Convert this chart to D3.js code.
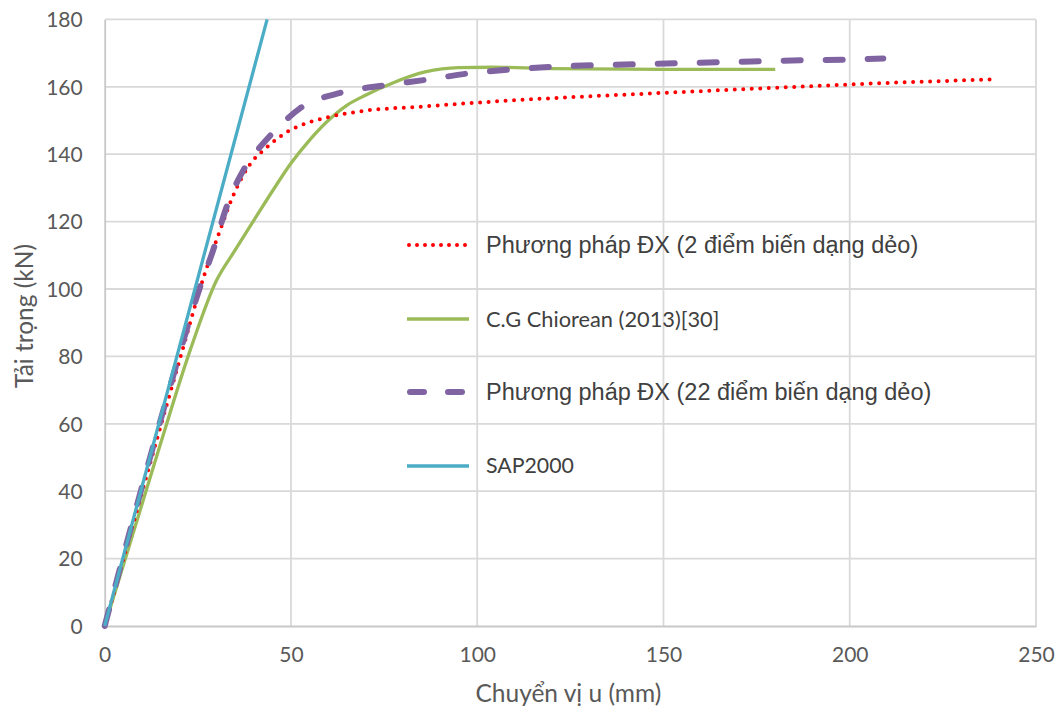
<!DOCTYPE html>
<html>
<head>
<meta charset="utf-8">
<script src="https://cdn.jsdelivr.net/npm/d3@7"></script>
<style>
  html, body { margin: 0; padding: 0; background: #ffffff; }
  svg { display: block; }
</style>
</head>
<body>
<div id="chart"></div>
<script>
// Load–displacement curves (u in mm, P in kN)
const xTicks = [0, 50, 100, 150, 200, 250];
const yTicks = [0, 20, 40, 60, 80, 100, 120, 140, 160, 180];

const dx2Points = [
  [0, 0], [20, 78.5], [27, 105], [31, 117.5], [35, 129], [39, 137], [43.5, 142],
  [48.8, 146.5], [55, 149.5], [60, 151], [68.5, 152.7], [86, 154.2], [107, 155.8],
  [150, 158.2], [186, 160], [200, 160.7], [239, 162.2]
];
const chioreanPoints = [
  [0, 0], [14.4, 52], [23, 82], [30, 102.5], [35, 111.5], [40, 120.3],
  [45, 129], [50, 137.3], [55, 144.2], [60, 150], [65, 154.5], [70, 157.5], [77, 161],
  [86, 164.4], [95, 165.7], [104, 165.8], [120, 165.4], [150, 165.2], [180, 165.2]
];
const dx22Points = [
  [0, 0], [16, 65], [25.6, 100.6], [29.1, 111.5], [32.7, 124.3], [37.2, 135.2],
  [40.5, 140.5], [44.4, 145.5], [48, 149.5], [52.4, 153.6], [63.2, 158.2], [74.8, 160.4],
  [86.4, 162.1], [97.2, 163.9], [108.8, 165.1], [119.5, 165.9], [142.8, 166.7],
  [165.1, 167.3], [188.4, 167.9], [200, 168.1], [209, 168.4]
];
const sapPoints = [[0, 0], [43.6, 180]];

const seriesNames = [
  "Phương pháp ĐX (2 điểm biến dạng dẻo)",
  "C.G Chiorean (2013)[30]",
  "Phương pháp ĐX (22 điểm biến dạng dẻo)",
  "SAP2000"
];

const W = 1061, H = 711;
const plot = { left: 104.7, right: 1036, top: 19.4, bottom: 626 };

const x = d3.scaleLinear().domain([0, 250]).range([plot.left, plot.right]);
const y = d3.scaleLinear().domain([0, 180]).range([plot.bottom, plot.top]);

const svg = d3.select("#chart").append("svg")
  .attr("width", W).attr("height", H);

const tickFont = "Lato, 'Open Sans', sans-serif";
const tickColor = "#595959";

// gridlines
svg.append("g").selectAll("line.h").data(yTicks.filter(d => d > 0)).join("line")
  .attr("x1", plot.left).attr("x2", plot.right)
  .attr("y1", d => y(d)).attr("y2", d => y(d))
  .attr("stroke", "#d9d9d9").attr("stroke-width", 1.8);
svg.append("g").selectAll("line.v").data(xTicks.filter(d => d > 0)).join("line")
  .attr("y1", plot.top).attr("y2", plot.bottom)
  .attr("x1", d => x(d)).attr("x2", d => x(d))
  .attr("stroke", "#d9d9d9").attr("stroke-width", 1.8);

// axes
const xAxis = svg.append("g").attr("transform", `translate(0,${plot.bottom})`)
  .call(d3.axisBottom(x).tickValues(xTicks).tickSize(0).tickPadding(21));
const yAxis = svg.append("g").attr("transform", `translate(${plot.left},0)`)
  .call(d3.axisLeft(y).tickValues(yTicks).tickSize(0).tickPadding(22));
[xAxis, yAxis].forEach(a => {
  a.select(".domain").attr("stroke", "#c8c8c8").attr("stroke-width", 1.8);
  a.selectAll("text").attr("fill", tickColor)
    .style("font-family", tickFont).style("font-size", "21px");
});
yAxis.selectAll("text").attr("dy", "0.35em");

// axis titles
svg.append("text")
  .attr("x", (plot.left + plot.right) / 2 - 2).attr("y", 702)
  .attr("text-anchor", "middle").attr("fill", tickColor)
  .style("font-family", tickFont).style("font-size", "24.5px")
  .text("Chuyển vị u (mm)");
svg.append("text")
  .attr("transform", `translate(33,316) rotate(-90)`)
  .attr("text-anchor", "middle").attr("fill", tickColor)
  .style("font-family", tickFont).style("font-size", "24.5px")
  .text("Tải trọng (kN)");

// series lines
const line = d3.line().x(d => x(d[0])).y(d => y(d[1])).curve(d3.curveMonotoneX);

const styles = [
  { color: "#ff0000", width: 4, dash: "0 8.5", cap: "round" },
  { color: "#9bbb59", width: 3.3, dash: null, cap: "butt" },
  { color: "#8064a2", width: 6, dash: "17 25", cap: "round" },
  { color: "#4bacc6", width: 3.3, dash: null, cap: "butt" }
];
const seriesData = [dx2Points, chioreanPoints, dx22Points, sapPoints];
const drawOrder = [1, 0, 2, 3];

drawOrder.forEach(i => {
  const s = styles[i];
  svg.append("path").datum(seriesData[i])
    .attr("d", line)
    .attr("fill", "none")
    .attr("stroke", s.color)
    .attr("stroke-width", s.width)
    .attr("stroke-linecap", s.cap)
    .attr("stroke-linejoin", "round")
    .attr("stroke-dasharray", s.dash);
});

// legend
const legendRows = [245, 319, 392, 466];
const legendFonts = [
  { family: "'Liberation Sans', Arial, sans-serif", size: 23.5 },
  { family: tickFont, size: 21.8 },
  { family: "'Liberation Sans', Arial, sans-serif", size: 23.5 },
  { family: tickFont, size: 21.3 }
];
const legend = svg.append("g");
seriesNames.forEach((name, i) => {
  const s = styles[i];
  const ly = legendRows[i];
  legend.append("line")
    .attr("x1", i === 0 ? 409 : (i === 2 ? 410 : 407))
    .attr("x2", i === 0 ? 470 : (i === 2 ? 465 : 469))
    .attr("y1", ly).attr("y2", ly)
    .attr("stroke", s.color).attr("stroke-width", s.width)
    .attr("stroke-linecap", s.cap)
    .attr("stroke-dasharray", i === 2 ? "14 24" : (i === 0 ? "0 8" : s.dash));
  legend.append("text")
    .attr("x", 486).attr("y", ly).attr("dy", "0.35em")
    .attr("fill", "#404040")
    .style("font-family", legendFonts[i].family)
    .style("font-size", legendFonts[i].size + "px")
    .text(name);
});
</script>
</body>
</html>
